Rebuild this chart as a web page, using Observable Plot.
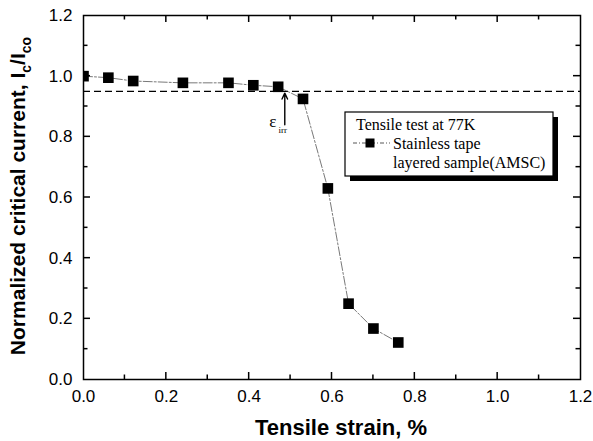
<!DOCTYPE html>
<html>
<head>
<meta charset="utf-8">
<script src="https://cdn.jsdelivr.net/npm/d3@7"></script>
<script src="https://cdn.jsdelivr.net/npm/@observablehq/plot@0.6"></script>
<style>
  html, body { margin: 0; padding: 0; background: #fff; }
  #chart svg { display: block; }
</style>
</head>
<body>
<div id="chart"></div>
<script>
// ---- data ----
const strain  = [0.0, 0.06, 0.12, 0.24, 0.35, 0.41, 0.47, 0.53, 0.59, 0.64, 0.70, 0.76];
const current = [1.0, 0.995, 0.984, 0.978, 0.978, 0.970, 0.965, 0.925, 0.630, 0.250, 0.168, 0.122];
const criterion = [0.95];
const xTicks = [0.0, 0.2, 0.4, 0.6, 0.8, 1.0, 1.2];
const yTicks = [0.0, 0.2, 0.4, 0.6, 0.8, 1.0, 1.2];
const minorTicks = [0.1, 0.3, 0.5, 0.7, 0.9, 1.1];
const arrowX = [0.486], arrowFrom = [0.84], arrowTo = [0.944];
const epsLabel = [{x: 0.457, y: 0.85, t: "ε", sub: "irr"}];
const xTitle = "Tensile strain, %";
const legendTitle = "Tensile test at 77K";
const seriesName = ["Stainless tape", "layered sample(AMSC)"];

const data = strain.map((s, i) => ({s, c: current[i]}));

const W = 593, H = 441, mT = 15, mB = 62, mL = 83, mR = 13;
const sans = "'Liberation Sans', Arial, sans-serif";
const serif = "'Liberation Serif', 'Times New Roman', serif";
const lo = 0, hi = 1.2;

const chart = Plot.plot({
  width: W, height: H,
  marginTop: mT, marginBottom: mB, marginLeft: mL, marginRight: mR,
  style: {background: "#fff", color: "#000", fontFamily: sans},
  x: {domain: [lo, hi]},
  y: {domain: [lo, hi]},
  marks: [
    Plot.ruleY(criterion, {stroke: "#000", strokeWidth: 1.4, strokeDasharray: "7,4"}),
    Plot.axisX({ticks: xTicks, tickSize: 0, tickPadding: 10, tickFormat: d3.format(".1f"), label: null, fontSize: 17}),
    Plot.axisY({ticks: yTicks, tickSize: 0, tickPadding: 11, tickFormat: d3.format(".1f"), label: null, fontSize: 17}),
    Plot.line(data, {x: "s", y: "c", stroke: "#555", strokeWidth: 0.8, strokeDasharray: "9,2,2,2"}),
    Plot.dot(data, {x: "s", y: "c", symbol: "square", r: 6, fill: "#000", stroke: "none", clip: true}),
    Plot.arrow(arrowX, {x1: d => d, x2: d => d, y1: () => arrowFrom[0], y2: () => arrowTo[0],
      stroke: "#000", strokeWidth: 1.4, headLength: 7, headAngle: 50}),
    Plot.text(epsLabel, {x: "x", y: "y", text: "t", fontFamily: serif, fontSize: 17, fill: "#000"}),
    Plot.text(epsLabel, {x: "x", y: "y", text: "sub", dx: 10, dy: 8, fontFamily: serif, fontSize: 9, fill: "#000"}),
    Plot.frame({stroke: "#000", strokeWidth: 1.5})
  ]
});

document.getElementById("chart").appendChild(chart);

// ---- inward ticks, axis titles and legend (using the plot's scales) ----
const svg = d3.select(chart);
const xs = chart.scale("x"), ys = chart.scale("y");
const x0 = xs.apply(lo), x1 = xs.apply(hi), y0 = ys.apply(lo), y1 = ys.apply(hi);

const tg = svg.append("g").attr("stroke", "#000").attr("stroke-width", 1.5).attr("fill", "none");
const ticks = [...xTicks.slice(1, -1).map(v => [v, 7]), ...minorTicks.map(v => [v, 4.5])];
for (const [v, len] of ticks) {
  const px = xs.apply(v), py = ys.apply(v);
  tg.append("line").attr("x1", px).attr("x2", px).attr("y1", y0).attr("y2", y0 - len);
  tg.append("line").attr("x1", px).attr("x2", px).attr("y1", y1).attr("y2", y1 + len);
  tg.append("line").attr("x1", x0).attr("x2", x0 + len).attr("y1", py).attr("y2", py);
  tg.append("line").attr("x1", x1).attr("x2", x1 - len).attr("y1", py).attr("y2", py);
}

svg.append("text")
  .attr("x", 341).attr("y", 435)
  .attr("text-anchor", "middle")
  .attr("font-family", sans).attr("font-weight", "bold").attr("font-size", 22)
  .attr("fill", "#000")
  .text(xTitle);

const yt = svg.append("text")
  .attr("transform", `translate(25,${(y0 + y1) / 2 - 1}) rotate(-90)`)
  .attr("text-anchor", "middle")
  .attr("font-family", sans).attr("font-weight", "bold").attr("font-size", 21)
  .attr("fill", "#000");
yt.append("tspan").text("Normalized critical current, I");
yt.append("tspan").attr("font-size", 14).attr("dy", 6).text("c");
yt.append("tspan").attr("dy", -6).text("/I");
yt.append("tspan").attr("font-size", 14).attr("dy", 6).text("co");

const lg = svg.append("g").attr("transform", "translate(345,112)").attr("text-anchor", "start");
lg.append("rect").attr("x", 5).attr("y", 5).attr("width", 208).attr("height", 64).attr("fill", "#000");
lg.append("rect").attr("x", 0).attr("y", 0).attr("width", 208).attr("height", 64)
  .attr("fill", "#fff").attr("stroke", "#000").attr("stroke-width", 1.2);
const lt = (x, y, s) => lg.append("text").attr("x", x).attr("y", y).attr("text-anchor", "start")
  .attr("font-family", serif).attr("font-size", 16).attr("fill", "#000").text(s);
lt(11, 17.5, legendTitle);
lg.append("line").attr("x1", 8).attr("x2", 45).attr("y1", 31).attr("y2", 31)
  .attr("stroke", "#444").attr("stroke-width", 0.9).attr("stroke-dasharray", "4,2,1,2");
lg.append("rect").attr("x", 20.5).attr("y", 26.5).attr("width", 9).attr("height", 9).attr("fill", "#000");
lt(48, 36.5, seriesName[0]);
lt(48, 56, seriesName[1]);
</script>
</body>
</html>
